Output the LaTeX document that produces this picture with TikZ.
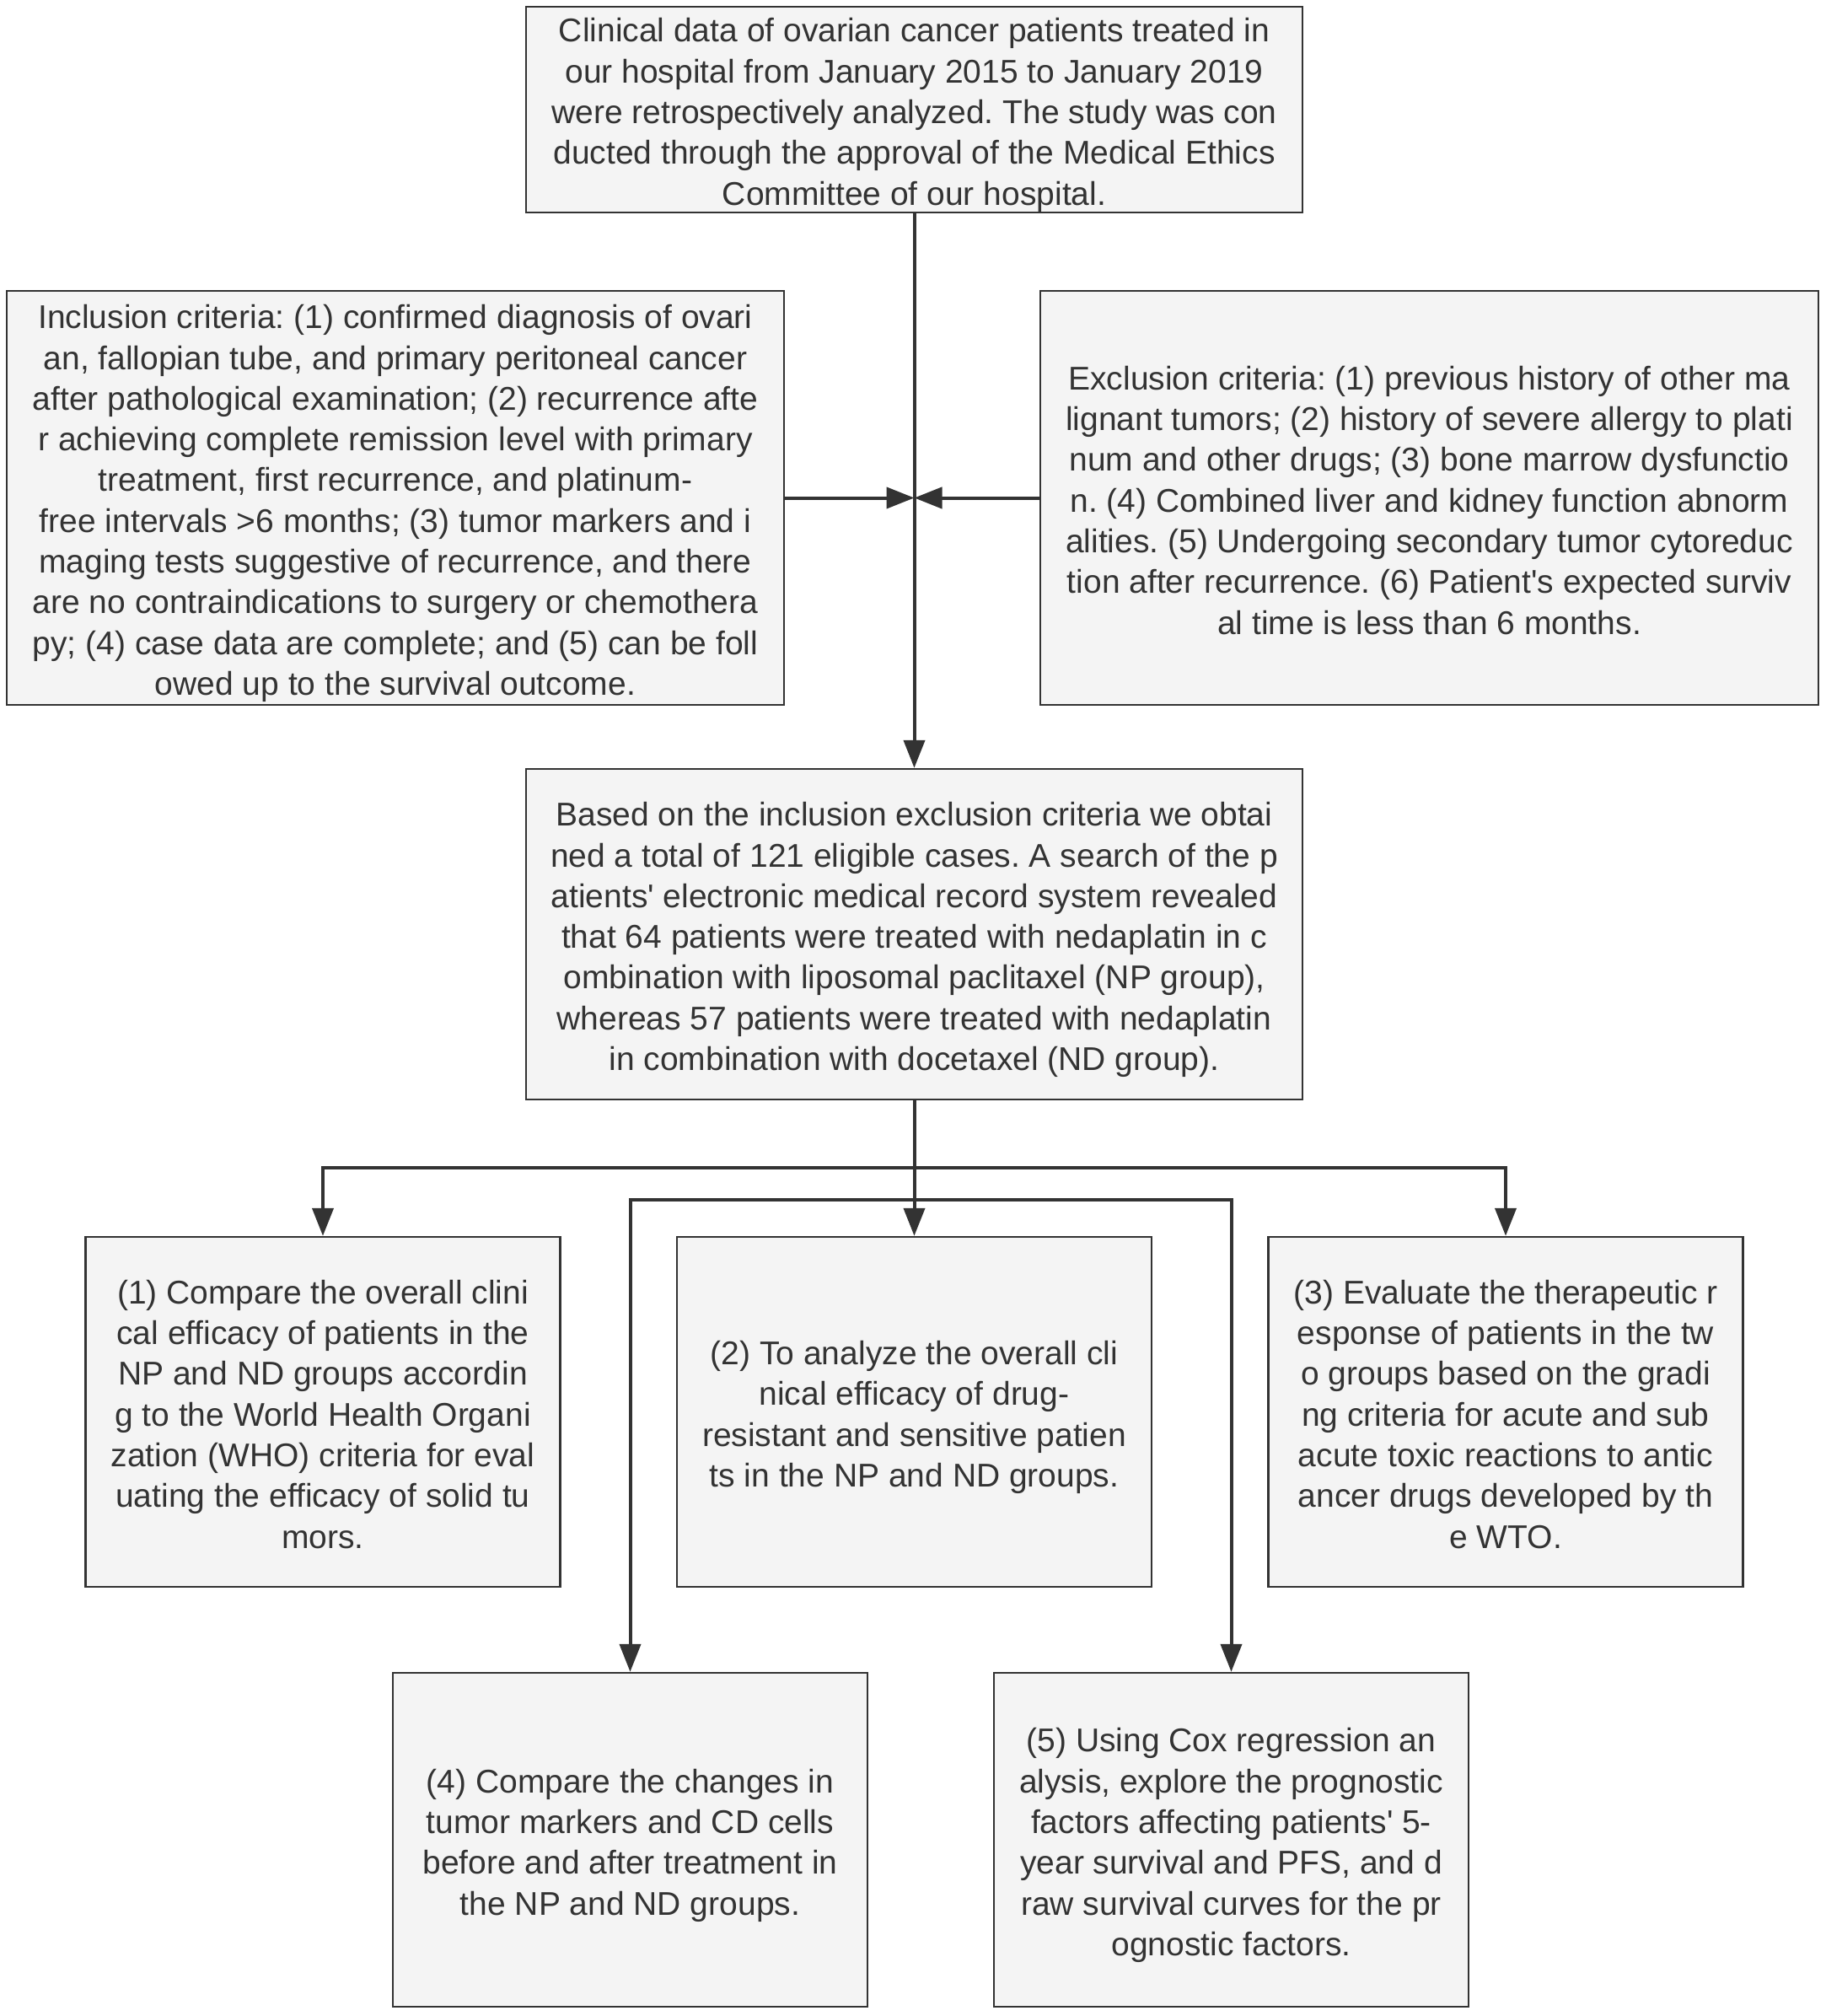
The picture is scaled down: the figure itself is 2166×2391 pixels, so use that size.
\documentclass[tikz,border=0pt]{standalone}
\usepackage{fontspec}
\setmainfont{Liberation Sans}
\frenchspacing
\usetikzlibrary{arrows.meta,
	calc,
	positioning}
\definecolor{boxfill}{HTML}{F4F4F4}
\definecolor{ink}{HTML}{333333}
\tikzstyle{box}=[draw=ink, fill=boxfill, line width=1.2pt, inner sep=0, align=center,
		text=ink, font=\fontsize{19.5}{24.15}\selectfont]
\tikzstyle{wide}=[box, minimum width=460.5pt]
\tikzstyle{task}=[box, minimum width=281.5pt]
\tikzstyle{arr}=[draw=ink, line width=2pt, -{Triangle[length=16.5pt, width=12.5pt]}]

\begin{document}
\begin{tikzpicture}[x=0.5pt, y=-0.5pt]
        \useasboundingbox[fill=white] (0,0) rectangle (2166,2391);
        % source and criteria
        \node[wide, text height=117.6pt, text depth=4.4pt] (src) at (1084.5,130) {Clinical data of ovarian cancer patients treated in\\our hospital from January 2015 to January 2019\\were retrospectively analyzed. The study was con\\ducted through the approval of the Medical Ethics\\Committee of our hospital.};
        \node[box, minimum width=461pt, text height=239.725pt, text depth=5.775pt] (incl) at (469,590.5) {Inclusion criteria: (1) confirmed diagnosis of ovari\\an, fallopian tube, and primary peritoneal cancer\\after pathological examination; (2) recurrence afte\\r achieving complete remission level with primary\\treatment, first recurrence, and platinum-\\free intervals >6 months; (3) tumor markers and i\\maging tests suggestive of recurrence, and there\\are no contraindications to surgery or chemothera\\py; (4) case data are complete; and (5) can be foll\\owed up to the survival outcome.};
        \node[box, minimum width=461.5pt, text height=203.5pt, text depth=42pt] (excl) at (1695.5,590.5) {Exclusion criteria: (1) previous history of other ma\\lignant tumors; (2) history of severe allergy to plati\\num and other drugs; (3) bone marrow dysfunctio\\n. (4) Combined liver and kidney function abnorm\\alities. (5) Undergoing secondary tumor cytoreduc\\tion after recurrence. (6) Patient\textquotesingle{}s expected surviv\\al time is less than 6 months.};
        \node[wide, text height=178.75pt, text depth=17.25pt] (cases) at (1084.5,1108) {Based on the inclusion exclusion criteria we obtai\\ned a total of 121 eligible cases. A search of the p\\atients\textquotesingle{} electronic medical record system revealed\\that 64 patients were treated with nedaplatin in c\\ombination with liposomal paclitaxel (NP group),\\whereas 57 patients were treated with nedaplatin\\in combination with docetaxel (ND group).};
        % analyses
        \node[task, text height=184.5pt, text depth=23pt] (t1) at (383,1674.5) {(1) Compare the overall clini\\cal efficacy of patients in the\\NP and ND groups accordin\\g to the World Health Organi\\zation (WHO) criteria for eval\\uating the efficacy of solid tu\\mors.};
        \node[task, text height=148.275pt, text depth=59.225pt] (t2) at (1084.5,1674.5) {(2) To analyze the overall cli\\nical efficacy of drug-\\resistant and sensitive patien\\ts in the NP and ND groups.};
        \node[task, text height=184.5pt, text depth=23pt] (t3) at (1786,1674.5) {(3) Evaluate the therapeutic r\\esponse of patients in the tw\\o groups based on the gradi\\ng criteria for acute and sub\\acute toxic reactions to antic\\ancer drugs developed by th\\e WTO.};
        \node[task, text height=143.525pt, text depth=54.475pt] (t4) at (747.5,2182) {(4) Compare the changes in\\tumor markers and CD cells\\before and after treatment in\\the NP and ND groups.};
        \node[task, text height=167.675pt, text depth=30.325pt] (t5) at (1460.5,2182) {(5) Using Cox regression an\\alysis, explore the prognostic\\factors affecting patients\textquotesingle{} 5-\\year survival and PFS, and d\\raw survival curves for the pr\\ognostic factors.};
        % connectors
        \coordinate (jn) at (src.south |- incl.east);
        \coordinate (br1) at (1084.5,1385);
        \coordinate (br2) at (1084.5,1423);
        \draw[arr] (src.south) -- (cases.north);
        \draw[arr] (incl.east) -- (jn);
        \draw[arr] (excl.west) -- (jn);
        \draw[arr] (cases.south) -- (br1) -| (t1.north);
        \draw[arr] (cases.south) -- (br1) -| (t3.north);
        \draw[arr] (cases.south) -- (t2.north);
        \draw[arr] (cases.south) -- (br2) -| (t4.north);
        \draw[arr] (cases.south) -- (br2) -| (t5.north);
\end{tikzpicture}
\end{document}
